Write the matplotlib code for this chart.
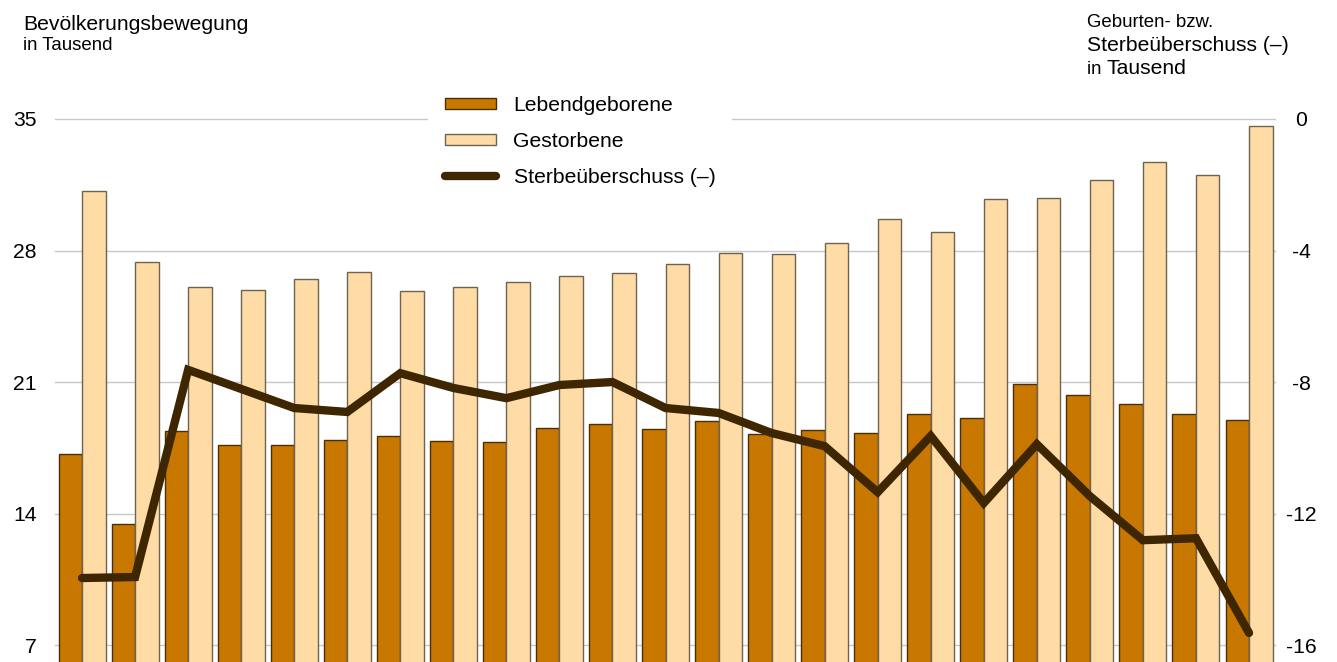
import matplotlib
matplotlib.use("Agg")
import matplotlib.pyplot as plt
import numpy as np
from matplotlib.patches import Patch
from matplotlib.lines import Line2D

plt.rcParams['font.family'] = ['Liberation Sans', 'DejaVu Sans']
plt.rcParams['axes.unicode_minus'] = False

lebendgeborene = [17.17, 13.44, 18.39, 17.65, 17.65, 17.91, 18.13, 17.86, 17.81, 18.55,
                  18.76, 18.50, 18.92, 18.23, 18.45, 18.29, 19.30, 19.08, 20.89, 20.31,
                  19.83, 19.30, 18.98]
gestorbene = [31.17, 27.39, 26.06, 25.90, 26.48, 26.86, 25.84, 26.06, 26.32, 26.64,
              26.80, 27.28, 27.87, 27.81, 28.40, 29.68, 28.98, 30.74, 30.79, 31.75,
              32.71, 32.02, 34.63]
sterbeueberschuss = [-13.96, -13.93, -7.63, -8.21, -8.79, -8.91, -7.73, -8.18, -8.49, -8.09,
                     -8.00, -8.79, -8.94, -9.55, -9.95, -11.35, -9.64, -11.68, -9.89, -11.47,
                     -12.81, -12.75, -15.63]
left_ticks = [7, 14, 21, 28, 35]
right_ticks = [-16, -12, -8, -4, 0]

W, H = 1337, 662
fig = plt.figure(figsize=(W / 100, H / 100), dpi=100)
ax_left, ax_right, ax_top = 55, 1275, 119
ax = fig.add_axes([ax_left / W, 0, (ax_right - ax_left) / W, (H - ax_top) / H])

dark = '#C87800'
light = '#FFDCA5'
linec = '#3D2600'

x = np.arange(len(lebendgeborene))
w = 0.443
ax.bar(x - w / 2, lebendgeborene, width=w, color=dark, edgecolor='#4A3000', linewidth=1.0, zorder=2)
ax.bar(x + w / 2, gestorbene, width=w, color=light, edgecolor='#6E6252', linewidth=1.0, zorder=2)

ymin = 6.1
ax.set_ylim(ymin, 35)
ax.set_xlim(-0.51, 22.49)
ax.set_yticks(left_ticks)
ax.set_xticks([])
ax.yaxis.grid(True, color='#C8C8C8', linewidth=1.0, zorder=0)
ax.set_axisbelow(True)
for s in ax.spines.values():
    s.set_visible(False)
ax.tick_params(axis='y', length=0, pad=13, labelsize=15.2)
for gl in ax.get_ygridlines():
    gl.set_clip_on(False)

ax2 = ax.twinx()
ax2.set_ylim((ymin - 35) * 4 / 7, 0)
ax2.plot(x, sterbeueberschuss, color=linec, linewidth=6, solid_capstyle='round',
         solid_joinstyle='miter', zorder=3)
ax2.set_yticks(right_ticks)
for s in ax2.spines.values():
    s.set_visible(False)
ax2.tick_params(axis='y', length=0, pad=19, labelsize=15.2)
for lbl in ax2.get_yticklabels():
    lbl.set_horizontalalignment('center')

def fy(px):
    return 1 - px / H

fig.text(23 / W, fy(30), 'Bevölkerungsbewegung', fontsize=15.2, va='baseline', ha='left')
fig.text(23 / W, fy(50), 'in Tausend', fontsize=13.4, va='baseline', ha='left')
fig.text(1087 / W, fy(27), 'Geburten- bzw.', fontsize=13.4, va='baseline', ha='left')
fig.text(1087 / W, fy(51), 'Sterbeüberschuss (–)', fontsize=15.2, va='baseline', ha='left')
t_in = fig.text(1087 / W, fy(74), 'in ', fontsize=13.4, va='baseline', ha='left')
fig.canvas.draw()
bb = t_in.get_window_extent()
fig.text(bb.x1 / W, fy(74), 'Tausend', fontsize=15.2, va='baseline', ha='left')

handles = [Patch(facecolor=dark, edgecolor='#4A3000', linewidth=1.0),
           Patch(facecolor=light, edgecolor='#6E6252', linewidth=1.0),
           Line2D([0], [0], color=linec, linewidth=6, solid_capstyle='round')]
labels = ['Lebendgeborene', 'Gestorbene', 'Sterbeüberschuss (–)']
leg = fig.legend(handles, labels, loc='upper left', bbox_to_anchor=(428 / W, fy(79)),
                 fontsize=15.2, frameon=True, facecolor='white', edgecolor='none',
                 framealpha=1, fancybox=False, handlelength=2.4, handleheight=0.45,
                 handletextpad=0.85, labelspacing=0.8, borderpad=0.8, borderaxespad=0)

fig.savefig('out.png', dpi=100)
